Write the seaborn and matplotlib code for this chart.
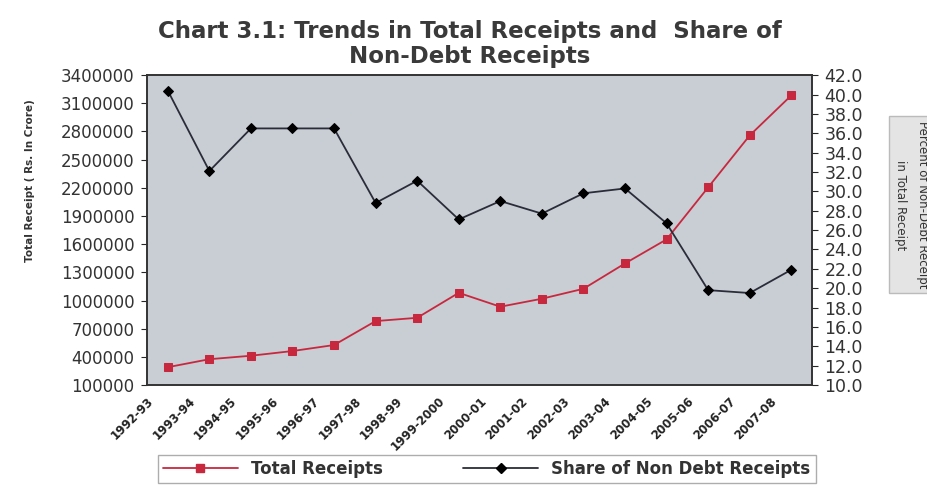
import matplotlib
matplotlib.use('Agg')

import numpy as np
import pandas as pd
import matplotlib.pyplot as plt
import seaborn as sns
from matplotlib.lines import Line2D

years = ['1992-93', '1993-94', '1994-95', '1995-96', '1996-97', '1997-98',
         '1998-99', '1999-2000', '2000-01', '2001-02', '2002-03', '2003-04',
         '2004-05', '2005-06', '2006-07', '2007-08']
total_receipts = [290000, 375000, 412000, 462000, 526000, 781000,
                  816000, 1082000, 934000, 1019000, 1125000, 1395000,
                  1651000, 2205000, 2758000, 3184000]
non_debt_share = [40.4, 32.1, 36.5, 36.5, 36.5, 28.8,
                  31.1, 27.1, 29.0, 27.7, 29.8, 30.3,
                  26.7, 19.8, 19.5, 21.9]

df = pd.DataFrame({'pos': np.arange(len(years)), 'year': years,
                   'total': total_receipts, 'share': non_debt_share})

sns.set_style('white')
plt.rcParams['font.family'] = ['DejaVu Sans']

red = '#c8283e'
dark = '#2a2d38'
txt = '#333333'

fig = plt.figure(figsize=(9.27, 4.88), dpi=100)
ax = fig.add_axes([0.1586, 0.211, 0.7174, 0.635])
ax.set_facecolor('#c9cdd4')

sns.lineplot(data=df, x='pos', y='total', ax=ax, color=red, marker='s',
             markersize=6, markeredgecolor=red, linewidth=1.3, sort=False)
ax2 = ax.twinx()
sns.lineplot(data=df, x='pos', y='share', ax=ax2, color=dark, marker='D',
             markersize=5, markeredgecolor='black', markerfacecolor='black',
             linewidth=1.3, sort=False)

ax.set_xlim(-0.5, len(years) - 0.5)
ax.set_ylim(100000, 3400000)
ax.set_yticks(np.arange(100000, 3400001, 300000))
ax.set_yticklabels([f'{v:d}' for v in np.arange(100000, 3400001, 300000)],
                   fontsize=12, color=txt)
ax2.set_ylim(10, 42)
ax2.set_yticks(np.arange(10, 42.1, 2))
ax2.set_yticklabels([f'{v:.1f}' for v in np.arange(10, 42.1, 2)],
                    fontsize=12.5, color=txt)

ax.set_xticks(np.arange(len(years)) - 0.5)
ax.set_xticklabels(years, rotation=45, ha='right', rotation_mode='anchor',
                   fontsize=8.5, fontweight='bold', color='#222222')
ax.tick_params(axis='x', length=3, pad=4)
ax.tick_params(axis='y', length=4, direction='out', left=True, pad=5)
ax2.tick_params(axis='y', length=4, direction='out', right=True, pad=5)

ax.set_xlabel('')
ax.set_ylabel('Total Receipt ( Rs. In Crore)', fontsize=7.5, fontweight='bold', color=txt)
ax.yaxis.set_label_coords(-0.168, 0.66)
ax2.set_ylabel('')

for a in (ax, ax2):
    for s in a.spines.values():
        s.set_color('#333333')
        s.set_linewidth(1.2)

fig.text(0.507, 0.936, 'Chart 3.1: Trends in Total Receipts and  Share of',
         ha='center', va='center', fontsize=16.5, fontweight='bold', color='#3a3a3a')
fig.text(0.507, 0.884, 'Non-Debt Receipts',
         ha='center', va='center', fontsize=16.5, fontweight='bold', color='#3a3a3a')

fig.text(0.983, 0.58, 'Percent of Non-Debt Receipt\nin Total Receipt', rotation=270,
         ha='center', va='center', fontsize=8.5, color='#333333', linespacing=1.9,
         bbox=dict(boxstyle='square,pad=0.4', facecolor='#e4e4e4', edgecolor='#bbbbbb'))

handles = [Line2D([], [], color=red, marker='s', markersize=6, linewidth=1.3),
           Line2D([], [], color=dark, marker='D', markersize=5, markerfacecolor='black',
                  markeredgecolor='black', linewidth=1.3)]
leg = fig.legend(handles, ['Total Receipts', 'Share of Non Debt Receipts'],
                 loc='center', bbox_to_anchor=(0.525, 0.039), ncol=2, frameon=True,
                 fancybox=False, edgecolor='#999999', handlelength=4.5,
                 columnspacing=4.8, prop={'weight': 'bold', 'size': 12},
                 borderpad=0.3)
for t in leg.get_texts():
    t.set_color('#333333')

fig.savefig('out.png', dpi=100)
